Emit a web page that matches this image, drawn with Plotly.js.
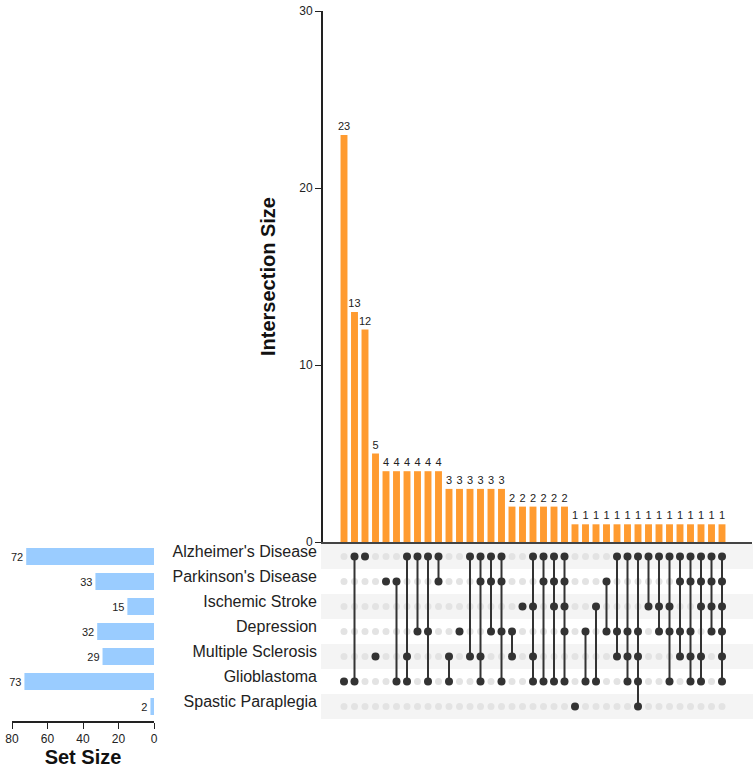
<!DOCTYPE html>
<html>
<head>
<meta charset="utf-8">
<script src="https://cdn.plot.ly/plotly-3.0.1.min.js"></script>
<style>html,body{margin:0;padding:0;background:#fff;}#chart{width:753px;height:770px;}</style>
</head>
<body>
<div id="chart"></div>
<script>
// ---- data ----
const setNames = ["Alzheimer's Disease","Parkinson's Disease","Ischemic Stroke","Depression","Multiple Sclerosis","Glioblastoma","Spastic Paraplegia"];
const setCodes = ["A","P","I","D","M","G","S"];
const setSizes = [72,33,15,32,29,73,2];
const intersectionCounts = [23,13,12,5,4,4,4,4,4,4,3,3,3,3,3,3,2,2,2,2,2,2,1,1,1,1,1,1,1,1,1,1,1,1,1,1,1];
const intersectionMembers = [
  "G","AG","A","M","P","PG","AMG","AD","ADG","AP",
  "MG","D","AM","APMG","APD","APDG","DM","I","AIMG","APG",
  "APIG","APIDG","S","DG","IG","PD","ADM","ADMG","ADMGS","AI",
  "AID","AIDG","APDM","APDMG","APIMG","APID","APIDMG"
];

// ---- geometry helpers (pixel -> paper) ----
const W = 753, H = 770;
const px = v => v / W;
const py = v => 1 - v / H;
const nSets = setNames.length;
const colIdx = intersectionCounts.map((_, i) => i);
const rowY = r => nSets - 1 - r; // top row = highest y

const FONT = "Liberation Sans, Arial, Helvetica, sans-serif";
const DARK = "#333333";

const traces = [];

// intersection bars
traces.push({
  type: "bar", x: colIdx, y: intersectionCounts, xaxis: "x", yaxis: "y",
  marker: {color: "#ff9b30"}, width: 0.66,
  text: intersectionCounts.map(String), textposition: "outside", constraintext: "none",
  textfont: {size: 11, color: "#222", family: FONT}, cliponaxis: false,
  hoverinfo: "skip"
});

// matrix dots and connectors
const inX = [], inY = [], acX = [], acY = [], lx = [], ly = [];
intersectionMembers.forEach((m, c) => {
  const rows = [];
  setCodes.forEach((code, r) => {
    if (m.includes(code)) { acX.push(c); acY.push(rowY(r)); rows.push(rowY(r)); }
    else { inX.push(c); inY.push(rowY(r)); }
  });
  if (rows.length > 1) {
    lx.push(c, c, null);
    ly.push(Math.max(...rows), Math.min(...rows), null);
  }
});
traces.push({type: "scatter", mode: "markers", x: inX, y: inY, xaxis: "x", yaxis: "y2",
  marker: {color: "#e3e3e3", size: 7}, hoverinfo: "skip"});
traces.push({type: "scatter", mode: "lines", x: lx, y: ly, xaxis: "x", yaxis: "y2",
  line: {color: DARK, width: 2}, hoverinfo: "skip"});
traces.push({type: "scatter", mode: "markers", x: acX, y: acY, xaxis: "x", yaxis: "y2",
  marker: {color: DARK, size: 8}, hoverinfo: "skip"});

// set size bars
traces.push({
  type: "bar", orientation: "h", x: setSizes, y: setNames.map((_, r) => rowY(r)),
  xaxis: "x3", yaxis: "y2", marker: {color: "#9accff"}, width: 0.68,
  text: setSizes.map(String), textposition: "outside", constraintext: "none",
  textfont: {size: 11, color: "#222", family: FONT}, cliponaxis: false,
  hoverinfo: "skip"
});

// stripes for alternating rows
const shapes = [];
setNames.forEach((_, r) => {
  if (r % 2 === 0) {
    shapes.push({type: "rect", layer: "below", xref: "paper", yref: "y2",
      x0: px(321), x1: 1, y0: rowY(r) - 0.5, y1: rowY(r) + 0.5,
      fillcolor: "#f4f4f4", line: {width: 0}});
  }
});

const pxPerCol = 10.5;
const xr0 = -(344 - 321) / pxPerCol;
const xr1 = xr0 + (752 - 321) / pxPerCol;

const layout = {
  width: W, height: H, margin: {l: 0, r: 0, t: 0, b: 0},
  paper_bgcolor: "#fff", plot_bgcolor: "rgba(0,0,0,0)",
  showlegend: false, font: {family: FONT, color: "#222", size: 12},
  bargap: 0.3,
  xaxis: {domain: [px(321), px(752)], range: [xr0, xr1], anchor: "y",
    showticklabels: false, ticks: "", showgrid: false, zeroline: false,
    showline: true, linecolor: "#444", linewidth: 2, fixedrange: true},
  yaxis: {domain: [py(542), py(11)], range: [0, 30], anchor: "free", position: px(321),
    tickvals: [0, 10, 20, 30], ticks: "outside", ticklen: 6, tickcolor: "#222",
    showline: true, linecolor: "#222", linewidth: 1.5, showgrid: false, zeroline: false,
    tickfont: {size: 12, color: "#222"},
    title: {text: "<b>Intersection Size</b>", font: {size: 20, color: "#111"}, standoff: 16}},
  yaxis2: {domain: [py(719), py(544)], range: [-0.5, nSets - 0.5], anchor: "free", position: px(321),
    tickvals: setNames.map((_, r) => rowY(r)), ticktext: setNames,
    ticks: "", showline: false, showgrid: false, zeroline: false,
    tickfont: {size: 16, color: "#222"}, ticklabelshift: -5, ticklabelstandoff: 4},
  xaxis3: {domain: [px(12), px(154)], range: [80, 0], anchor: "free", position: py(721),
    tickvals: [0, 20, 40, 60, 80], ticks: "outside", ticklen: 6, tickcolor: "#222",
    showline: true, linecolor: "#222", linewidth: 1.5, showgrid: false, zeroline: false,
    tickfont: {size: 12, color: "#222"},
    title: {text: "<b>Set Size</b>", font: {size: 20, color: "#111"}, standoff: 3}},
  shapes: shapes
};

Plotly.newPlot("chart", traces, layout, {displayModeBar: false, staticPlot: true});
</script>
</body>
</html>
